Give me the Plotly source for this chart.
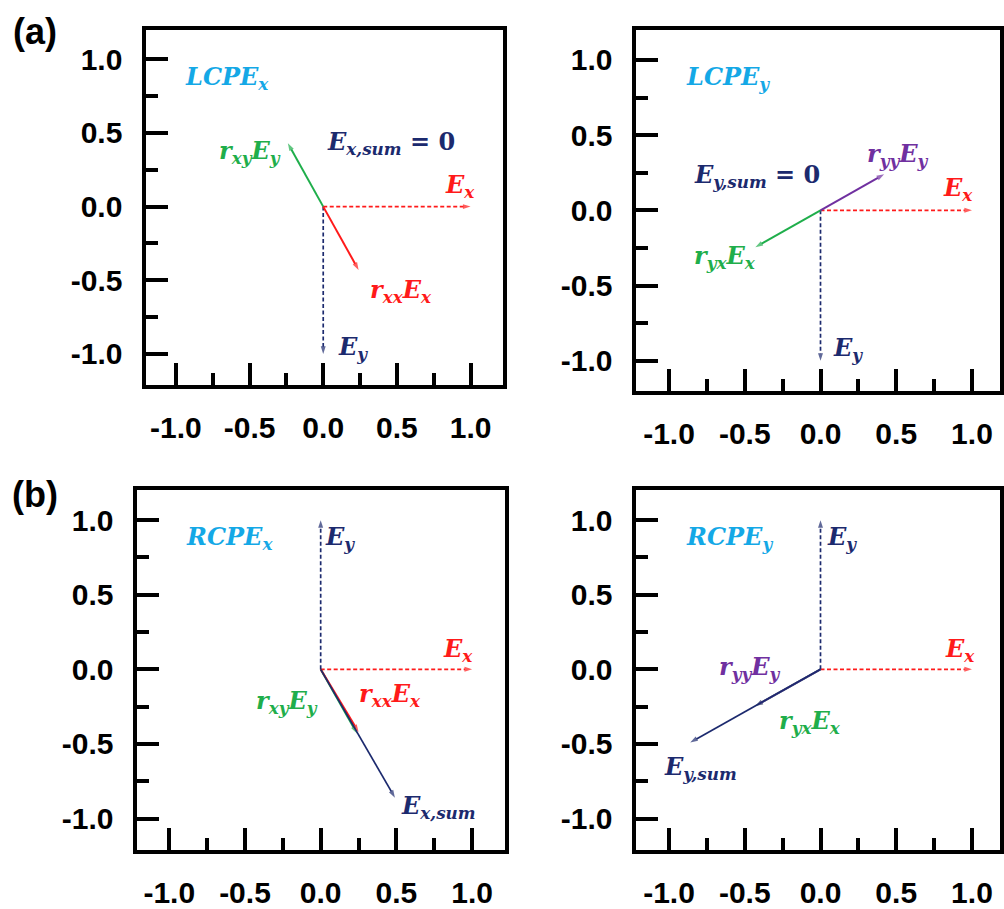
import plotly.graph_objects as go

# ---------------- data ----------------
panels = ["a_left", "a_right", "b_left", "b_right"]
panel_titles = ["LCPE_x", "LCPE_y", "RCPE_x", "RCPE_y"]

# incident fields (dashed)
Ex_x = [1.0, 1.0, 1.0, 1.0]
Ex_y = [0.0, 0.0, 0.0, 0.0]
Ey_x = [0.0, 0.0, 0.0, 0.0]
Ey_y = [-1.0, -1.0, 1.0, 1.0]

# reflected components (solid); None = not drawn in that panel
rxxEx = [(0.24, -0.43), None, (0.25, -0.42), None]
rxyEy = [(-0.24, 0.43), None, (0.24, -0.43), None]
ryyEy = [None, (0.42, 0.24), None, (-0.43, -0.245)]
ryxEx = [None, (-0.43, -0.245), None, (-0.43, -0.245)]
Esum = [None, None, (0.49, -0.86), (-0.86, -0.49)]

tick_vals = [-1.0, -0.5, 0.0, 0.5, 1.0]
tick_text = ["-1.0", "-0.5", "0.0", "0.5", "1.0"]
minor_vals = [-0.75, -0.25, 0.25, 0.75]

# ---------------- style ----------------
RED = "#ff1a1a"
GREEN = "#1fae4b"
NAVY = "#1c2a6e"
PURPLE = "#7030a0"
SKY = "#14a8e6"

W, H = 1004, 909
# pixel boxes (left, right, top, bottom)
boxes = [(147, 505, 30, 387), (639, 1004, 30, 393), (138, 507, 493, 855), (639, 1004, 493, 855)]
xranges = [[-1.2, 1.22], [-1.215, 1.185], [-1.21, 1.217], [-1.215, 1.185]]
yranges = [[-1.21, 1.2], [-1.2, 1.2], [-1.213, 1.2], [-1.213, 1.2]]

fig = go.Figure()


def vec(i, end, color, dash, width=1.6):
    if end is None:
        return
    xa = "x" if i == 0 else f"x{i+1}"
    ya = "y" if i == 0 else f"y{i+1}"
    fig.add_trace(go.Scatter(
        x=[0, end[0]], y=[0, end[1]], mode="lines+markers",
        line=dict(color=color, width=width, dash=dash),
        marker=dict(symbol="arrow", size=[0, 8], angleref="previous", color=color,
                    line=dict(width=0)),
        xaxis=xa, yaxis=ya, showlegend=False, hoverinfo="skip", cliponaxis=False))


for i in range(4):
    vec(i, (Ex_x[i], Ex_y[i]), RED, "4px,2.5px", 1.7)
    vec(i, (Ey_x[i], Ey_y[i]), NAVY, "4px,2.5px", 1.7)
    vec(i, rxyEy[i], GREEN, "solid", 2)
    vec(i, ryxEx[i], GREEN, "solid", 2)
    vec(i, rxxEx[i], RED, "solid", 2)
    vec(i, ryyEy[i], PURPLE, "solid", 2)
    vec(i, Esum[i], NAVY, "solid", 1.7)

axis_common = dict(
    showgrid=False, zeroline=False, showline=True, linecolor="black", linewidth=4,
    mirror=True, ticks="inside", ticklen=22, tickwidth=4, tickcolor="black",
    tickmode="array", tickvals=tick_vals, ticktext=tick_text,
    tickfont=dict(family="Liberation Sans", size=30, color="black", weight="bold"),
    minor=dict(ticks="inside", ticklen=12, tickwidth=4, tickcolor="black",
               tickmode="array", tickvals=minor_vals),
    fixedrange=True,
)

layout = dict(width=W, height=H, margin=dict(l=0, r=0, t=0, b=0),
              paper_bgcolor="white", plot_bgcolor="white", showlegend=False)
for i, (l, r, t, b) in enumerate(boxes):
    sfx = "" if i == 0 else str(i + 1)
    layout["xaxis" + sfx] = dict(axis_common, domain=[l / W, r / W], range=xranges[i],
                                 anchor="y" + sfx, ticklabelstandoff=13)
    layout["yaxis" + sfx] = dict(axis_common, domain=[1 - b / H, 1 - t / H], range=yranges[i],
                                 anchor="x" + sfx, ticklabelstandoff=14)
fig.update_layout(**layout)

MFONT = "DejaVu Serif"


def lab(i, x, y, text, color, size=24):
    xr = "x" if i == 0 else f"x{i+1}"
    yr = "y" if i == 0 else f"y{i+1}"
    fig.add_annotation(x=x, y=y, xref=xr, yref=yr, text=text, showarrow=False,
                       font=dict(family=MFONT, size=size, color=color),
                       xanchor="center", yanchor="middle")


def sub(base, s):
    return f"<b><i>{base}</i></b><sub><b><i>{s}</i></b></sub>"


titles_html = [sub("LCPE", "x"), sub("LCPE", "y"), sub("RCPE", "x"), sub("RCPE", "y")]
title_pos = [(-0.65, 0.87), (-0.61, 0.88), (-0.6, 0.88), (-0.6, 0.88)]
for i in range(4):
    lab(i, title_pos[i][0], title_pos[i][1], titles_html[i], SKY)

# panel a-left
lab(0, 0.46, 0.43, sub("E", "x,sum") + "<b> = 0</b>", NAVY)
lab(0, -0.5, 0.37, sub("r", "xy") + sub("E", "y"), GREEN)
lab(0, 0.93, 0.14, sub("E", "x"), RED)
lab(0, 0.53, -0.57, sub("r", "xx") + sub("E", "x"), RED)
lab(0, 0.2, -0.96, sub("E", "y"), NAVY)
# panel a-right
lab(1, 0.51, 0.37, sub("r", "yy") + sub("E", "y"), PURPLE)
lab(1, -0.42, 0.23, sub("E", "y,sum") + "<b> = 0</b>", NAVY)
lab(1, 0.91, 0.14, sub("E", "x"), RED)
lab(1, -0.63, -0.31, sub("r", "yx") + sub("E", "x"), GREEN)
lab(1, 0.18, -0.92, sub("E", "y"), NAVY)
# panel b-left
lab(2, 0.13, 0.88, sub("E", "y"), NAVY)
lab(2, 0.91, 0.13, sub("E", "x"), RED)
lab(2, 0.46, -0.17, sub("r", "xx") + sub("E", "x"), RED)
lab(2, -0.22, -0.22, sub("r", "xy") + sub("E", "y"), GREEN)
lab(2, 0.78, -0.92, sub("E", "x,sum"), NAVY)
# panel b-right
lab(3, 0.14, 0.88, sub("E", "y"), NAVY)
lab(3, 0.92, 0.13, sub("E", "x"), RED)
lab(3, -0.47, 0.01, sub("r", "yy") + sub("E", "y"), PURPLE)
lab(3, -0.07, -0.35, sub("r", "yx") + sub("E", "x"), GREEN)
lab(3, -0.79, -0.66, sub("E", "y,sum"), NAVY)

# panel letters
for txt, yy in [("(a)", 32), ("(b)", 497)]:
    fig.add_annotation(x=35 / W, y=1 - yy / H, xref="paper", yref="paper", text=f"<b>{txt}</b>",
                       showarrow=False, xanchor="center", yanchor="middle",
                       font=dict(family="Liberation Sans", size=36, color="black"))

fig.write_html("out.html", config={"displayModeBar": False},
               post_script="document.body.style.margin='0px';")
